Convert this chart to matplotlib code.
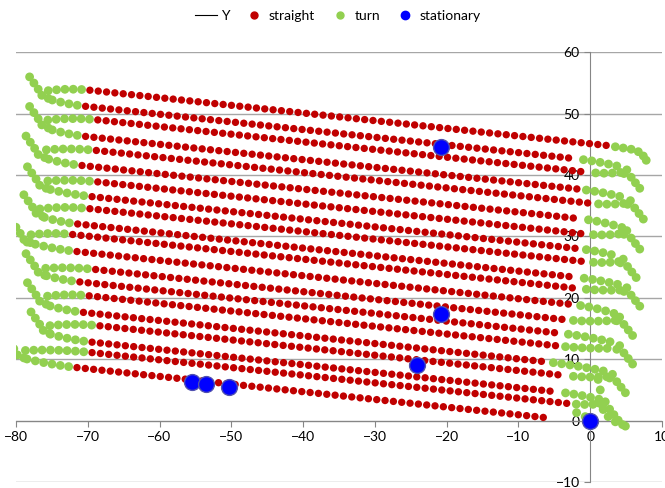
import numpy as np
import matplotlib.pyplot as plt
from matplotlib.lines import Line2D

plt.rcParams['font.family'] = ['Lato', 'DejaVu Sans']

# straight passes: y read at x=-37.6, red start (left) and red end (right)
row_y_mid = [49.8, 47.1, 45.1, 42.2, 40.1, 37.4, 35.0, 32.5, 30.5, 27.8,
             26.0, 23.3, 20.7, 18.4, 16.3, 13.5, 11.6, 8.8, 7.1, 4.4]
row_x_start = [-69.7, -70.3, -68.6, -70.3, -68.8, -70.8, -68.6, -69.4, -69.7, -71.4,
               -72.1, -71.5, -68.9, -71.1, -69.8, -70.6, -68.3, -69.4, -69.4, -71.5]
row_x_end = [2.4, -2.1, -0.4, -1.7, 0.0, -1.4, -0.7, -1.7, -0.7, -2.0,
             -1.7, -2.5, -3.5, -4.2, -4.6, -6.3, -3.5, -4.6, -3.1, -6.0]
row_slope = -0.125
dot_step = 1.16

# headland turns: left ones join rows (1,2),(3,4)...; right ones join (2,3),(4,5)...
left_turn_x = [-76.0, -76.0, -76.5, -76.3, -76.8, -78.5, -76.5, -76.3, -75.8, -79.4]
right_turn_x = [4.5, 5.0, 4.5, 4.0, 4.5, 3.5, 3.5, 2.5, 1.5]

# odd bits of the track
top_tail_x = [3.5, 4.6, 5.7, 6.7, 7.4, 7.8]
top_tail_y = [44.6, 44.4, 44.2, 43.8, 43.1, 42.4]
origin_tail_x = [-1.9, -0.7, 1.1, 1.4, 1.1, 1.8, 2.5, 3.5, 4.5, 4.9]
origin_tail_y = [1.3, 0.65, 6.7, 5.0, 2.9, 1.8, 0.65, -0.2, -0.65, -0.9]

stat_x = [-20.8, -20.8, -24.1, -55.5, -53.5, -50.3, 0.0]
stat_y = [44.5, 17.4, 9.1, 6.3, 6.0, 5.5, 0.0]


def row_y(i, x):
    return row_y_mid[i] + row_slope * (np.asarray(x) + 37.6)


sx, sy = [], []
for i in range(len(row_y_mid)):
    xs = np.arange(row_x_start[i], row_x_end[i] + 0.01, dot_step)
    sx += list(xs)
    sy += list(row_y(i, xs))

tx, ty = [], []


def arm(i, x0, x1, bend):
    d = np.sign(x1 - x0)
    xs = np.arange(x0 + d * dot_step, x1, d * dot_step)
    if len(xs) == 0:
        return
    t = (xs - x0) / (x1 - x0)
    tx.extend(xs)
    ty.extend(row_y(i, xs) + bend * t ** 2)


for k, xc in enumerate(left_turn_x):
    u, l = 2 * k, 2 * k + 1
    gap = row_y(u, xc) - row_y(l, xc)
    arm(u, row_x_start[u], xc, -0.35 * gap)
    arm(l, row_x_start[l], xc, 0.25 * gap)
    ym = row_y(l, xc) + 0.4 * gap
    tx.extend([xc - 0.4, xc + 0.5, xc - 0.9, xc - 1.5, xc - 2.1])
    ty.extend([ym, ym - 0.5, ym + 1.0, ym + 2.0, ym + 3.0])

for k, xc in enumerate(right_turn_x):
    u, l = 2 * k + 1, 2 * k + 2
    gap = row_y(u, xc) - row_y(l, xc)
    arm(u, row_x_end[u], xc, -0.3 * gap)
    arm(l, row_x_end[l], xc, 0.3 * gap)
    ym = row_y(l, xc) + 0.5 * gap
    tx.extend([xc + 0.6, xc + 0.2, xc + 1.2, xc + 1.8, xc + 2.4])
    ty.extend([ym, ym - 0.6, ym - 1.2, ym - 2.1, ym - 3.0])

tx += top_tail_x + origin_tail_x
ty += top_tail_y + origin_tail_y

fig = plt.figure(figsize=(6.65, 4.88), dpi=100)
ax = fig.add_axes([0.024, 0.0123, 0.9715, 0.8807])

grid_c = '#a6a6a6'
for yv in range(-10, 61, 10):
    ax.axhline(yv, color=grid_c, lw=1, zorder=0)

ax.scatter(sx, sy, s=28, color='#c00000', edgecolors='none', zorder=3)
ax.scatter(tx, ty, s=40, color='#92d050', edgecolors='none', zorder=3)
ax.scatter(stat_x, stat_y, s=130, color='#0000ff', edgecolors='#5050b0', linewidths=1, zorder=4)

ax.set_xlim(-80, 10)
ax.set_ylim(-10, 60)
for s in ['top', 'right']:
    ax.spines[s].set_visible(False)
ax.spines['bottom'].set_position(('data', 0))
ax.spines['left'].set_position(('data', 0))
ax.spines['bottom'].set_color('#868686')
ax.spines['left'].set_color('#868686')
ax.set_xticks(range(-80, 11, 10))
ax.set_yticks(range(-10, 61, 10))
ax.tick_params(axis='both', colors='#868686', labelcolor='black', labelsize=10, length=4, direction='out')
ax.patch.set_visible(False)

handles = [Line2D([], [], color='black', lw=0.8),
           Line2D([], [], marker='o', ls='none', color='#c00000', ms=5),
           Line2D([], [], marker='o', ls='none', color='#92d050', ms=5),
           Line2D([], [], marker='o', ls='none', color='#0000ff', ms=6)]
fig.legend(handles, ['Y', 'straight', 'turn', 'stationary'], loc='center', bbox_to_anchor=(0.508, 0.968),
           ncol=4, frameon=False, fontsize=10, handlelength=1.6, columnspacing=1.0, handletextpad=0.25)

fig.savefig('out.png', dpi=100)
